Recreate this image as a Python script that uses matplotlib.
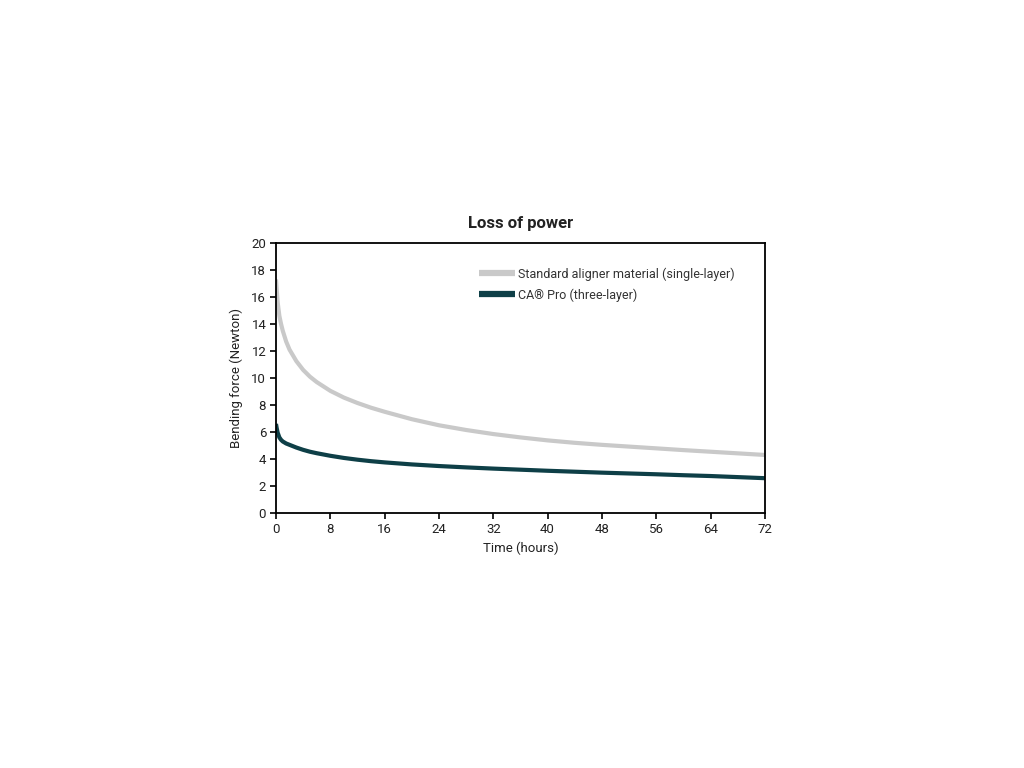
import matplotlib.pyplot as plt
from matplotlib.lines import Line2D

plt.rcParams['font.family'] = ['Roboto', 'DejaVu Sans']

hours = [0, 0.1, 0.25, 0.5, 0.75, 1, 1.5, 2, 3, 4, 5, 6, 8, 10, 12, 14, 16, 20, 24,
         28, 32, 36, 40, 44, 48, 52, 56, 60, 64, 68, 72]
standard = [17.3, 16.6, 15.6, 14.6, 14.0, 13.5, 12.7, 12.1, 11.25, 10.6, 10.1, 9.7, 9.05,
            8.55, 8.15, 7.8, 7.5, 6.95, 6.5, 6.15, 5.85, 5.6, 5.38, 5.2, 5.05, 4.92,
            4.79, 4.66, 4.54, 4.42, 4.3]
ca_pro = [6.6, 6.3, 5.95, 5.6, 5.42, 5.3, 5.15, 5.05, 4.85, 4.68, 4.54, 4.43, 4.24,
          4.08, 3.95, 3.84, 3.75, 3.6, 3.48, 3.38, 3.29, 3.21, 3.13, 3.06, 2.99, 2.93,
          2.87, 2.8, 2.74, 2.66, 2.58]

xticks = [0, 8, 16, 24, 32, 40, 48, 56, 64, 72]
yticks = [0, 2, 4, 6, 8, 10, 12, 14, 16, 18, 20]

gray = '#c9c9c9'
teal = '#0e3f47'

fig = plt.figure(figsize=(10.24, 7.68), dpi=100)
ax = fig.add_axes([0.2695, 0.332, 0.4775, 0.3516])

ax.plot(hours, standard, color=gray, linewidth=3, solid_capstyle='butt')
ax.plot(hours, ca_pro, color=teal, linewidth=3, solid_capstyle='butt')

ax.set_xlim(0, 72)
ax.set_ylim(0, 20)
ax.set_xticks(xticks)
ax.set_yticks(yticks)
ax.tick_params(direction='out', length=4, width=1.2, labelsize=9.5, pad=3, labelcolor='#222222')
for s in ax.spines.values():
    s.set_linewidth(1.3)

ax.set_xlabel('Time (hours)', fontsize=9.5, labelpad=4, color='#222222')
ax.set_ylabel('Bending force (Newton)', fontsize=9.5, labelpad=6, color='#222222')
ax.set_title('Loss of power', fontsize=12, fontweight='bold', pad=11, color='#222222')

handles = [Line2D([], [], color=gray, linewidth=4.5, solid_capstyle='butt'),
           Line2D([], [], color=teal, linewidth=4.5, solid_capstyle='butt')]
labels = ['Standard aligner material (single-layer)', 'CA® Pro (three-layer)']
ax.legend(handles, labels, loc='upper left', bbox_to_anchor=(0.405, 0.928), frameon=False,
          handlelength=2.9, handletextpad=0.25, labelspacing=0.6, fontsize=9,
          labelcolor='#333333', borderaxespad=0)

fig.savefig('out.png', dpi=100)
